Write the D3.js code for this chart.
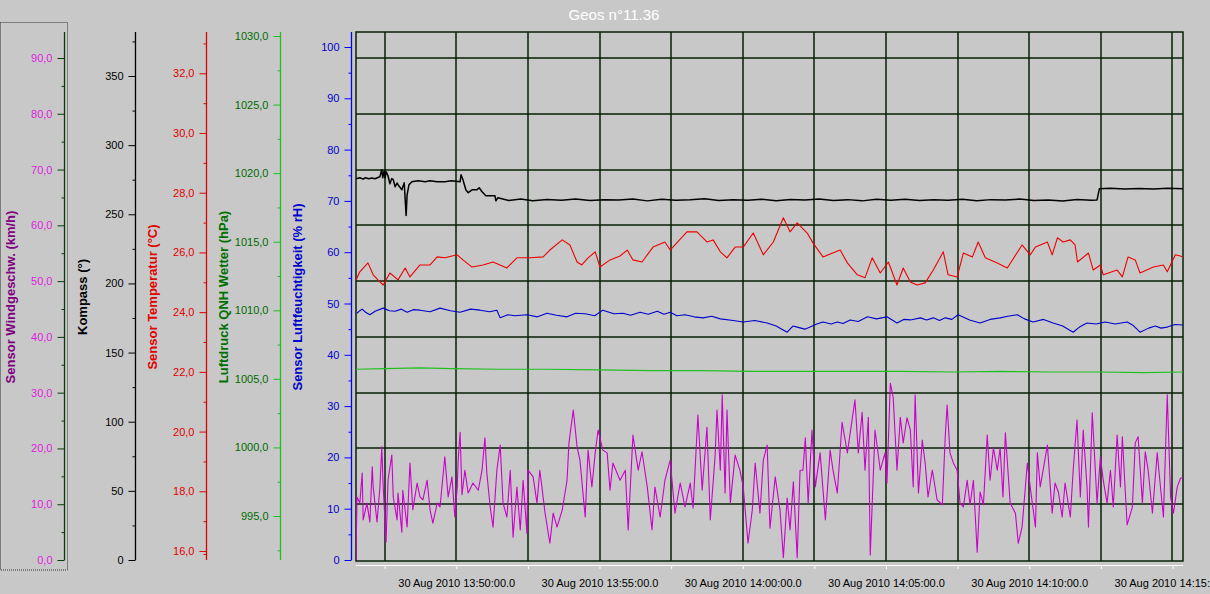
<!DOCTYPE html>
<html><head><meta charset="utf-8">
<script src="https://cdn.jsdelivr.net/npm/d3@7/dist/d3.min.js"></script>
<style>
html,body{margin:0;padding:0;background:#c8c8c8;overflow:hidden;}
svg{display:block;font-family:Arial,"Liberation Sans",sans-serif;}
</style></head><body>
<svg id="chart" width="1210" height="594"></svg>
<script>
// ---------- data ----------
const chartTitle = "Geos n°11.36";
const startTime = "2010-08-30 13:46:30";
const endTime   = "2010-08-30 14:15:22";
const gridTimes = ["13:47:30","13:50:00","13:52:30","13:55:00","13:57:30","14:00:00","14:02:30","14:05:00","14:07:30","14:10:00","14:12:30","14:15:00"];
const labelTimes = ["13:50:00","13:55:00","14:00:00","14:05:00","14:10:00","14:15:00"];

const windTicks = [0,10,20,30,40,50,60,70,80,90];
const compassTicks = [0,50,100,150,200,250,300,350];
const tempTicks = [16,18,20,22,24,26,28,30,32];
const pressTicks = [995,1000,1005,1010,1015,1020,1025,1030];
const humidTicks = [0,10,20,30,40,50,60,70,80,90,100];

const axisTitles = ["Sensor Windgeschw. (km/h)","Kompass (°)","Sensor Temperatur (°C)","Luftdruck QNH Wetter (hPa)","Sensor Luftfeuchtigkeit (% rH)"];

// [seconds after 13:46:30, value]
const windData = [[0,0],[2,11.3],[8,10.2],[13,15.6],[15,7.2],[23,10.2],[29,6.8],[34,16.7],[36,13.1],[44,6.8],[50,12.9],[54,20.3],[57,13.1],[63,3.2],[67,14.3],[75,18.8],[78,11.3],[86,7.2],[88,12.0],[96,5.0],[98,12.5],[107,5.9],[113,17.4],[119,9.0],[128,13.8],[134,11.3],[140,10.8],[149,14.3],[155,9.0],[161,6.6],[170,10.2],[176,9.5],[186,18.5],[193,11.3],[201,14.9],[207,7.7],[212,13.1],[214,17.9],[218,22.9],[222,11.7],[228,16.1],[235,12.0],[245,13.8],[256,12.5],[264,16.1],[270,21.9],[274,15.6],[281,9.5],[287,5.9],[295,16.1],[302,20.6],[308,10.2],[316,7.7],[323,16.1],[329,4.1],[337,13.1],[344,5.4],[350,14.3],[358,4.8],[360,16.1],[371,14.9],[379,10.2],[385,16.1],[396,8.4],[406,3.0],[413,8.4],[421,5.9],[432,9.0],[442,14.3],[446,21.0],[455,26.9],[463,20.3],[469,17.9],[480,7.7],[486,19.7],[494,13.1],[501,19.2],[507,23.3],[517,19.7],[526,19.2],[532,12.5],[538,17.4],[553,14.3],[564,16.1],[570,5.4],[580,22.4],[591,16.1],[599,19.4],[610,13.1],[620,5.4],[626,13.1],[637,7.7],[647,14.3],[658,17.9],[668,8.4],[679,13.8],[689,9.5],[700,13.8],[706,9.3],[716,26.0],[725,12.5],[735,23.8],[742,7.2],[752,18.5],[756,26.9],[763,16.1],[767,29.6],[773,12.0],[777,26.9],[784,10.2],[794,18.8],[804,16.1],[811,13.1],[821,3.0],[830,9.0],[836,17.4],[846,8.4],[853,17.9],[861,20.6],[867,5.7],[878,14.9],[888,9.0],[895,0.4],[903,11.1],[909,5.4],[916,14.0],[924,0.4],[930,16.1],[936,16.1],[941,21.9],[947,10.2],[955,23.3],[962,13.1],[972,19.2],[983,7.2],[993,19.7],[999,16.1],[1008,12.0],[1018,24.7],[1029,19.2],[1045,28.7],[1052,19.2],[1060,26.5],[1066,16.1],[1073,25.6],[1077,0.9],[1087,23.3],[1098,16.1],[1108,19.2],[1112,13.8],[1119,31.7],[1125,29.2],[1133,16.1],[1140,25.6],[1146,21.0],[1154,25.5],[1161,23.3],[1167,13.1],[1171,29.6],[1178,12.0],[1186,21.5],[1192,17.4],[1198,11.3],[1207,16.1],[1217,10.8],[1228,9.9],[1234,22.1],[1238,27.8],[1244,19.2],[1251,17.4],[1259,16.1],[1265,10.2],[1272,9.5],[1280,14.3],[1286,9.9],[1293,14.3],[1301,1.4],[1307,12.2],[1314,9.9],[1322,22.4],[1328,14.3],[1335,20.1],[1343,16.1],[1349,20.1],[1355,11.3],[1360,22.8],[1370,10.2],[1381,8.4],[1387,3.0],[1395,5.9],[1406,17.4],[1412,13.1],[1423,5.9],[1427,19.2],[1433,13.1],[1448,20.6],[1458,8.4],[1464,13.8],[1471,12.2],[1479,7.7],[1485,13.8],[1496,7.7],[1502,16.1],[1510,25.1],[1517,11.3],[1523,23.3],[1531,13.1],[1534,5.9],[1542,26.4],[1552,10.2],[1559,18.5],[1565,14.3],[1573,10.2],[1580,16.1],[1586,9.5],[1594,22.4],[1601,13.1],[1605,22.1],[1611,12.5],[1615,6.3],[1626,9.5],[1632,21.0],[1638,22.1],[1647,10.2],[1653,19.4],[1659,16.1],[1668,8.4],[1678,19.2],[1684,13.8],[1691,7.7],[1699,29.6],[1706,11.3],[1712,8.4],[1720,13.1],[1727,14.7],[1733,14.7]];

const compassData = [[0,275.7],[8,276.4],[15,275.4],[19,276.4],[27,275.7],[33,276.2],[40,275.7],[46,276.6],[50,277.1],[54,282.2],[56,276.4],[59,281.5],[61,276.4],[63,280.8],[67,277.9],[71,272.1],[75,275.8],[78,275.0],[82,269.9],[86,272.6],[88,271.4],[92,269.6],[96,267.7],[101,272.8],[103,260.5],[105,249.2],[107,264.1],[111,271.4],[117,273.5],[130,274.3],[145,273.6],[155,274.2],[170,273.6],[186,273.5],[200,274.2],[218,273.5],[220,278.6],[224,275.0],[230,267.7],[235,265.6],[243,267.7],[253,267.7],[258,269.2],[264,266.3],[272,263.4],[291,263.4],[293,259.8],[297,261.9],[320,260.0],[345,261.0],[370,259.8],[400,260.7],[430,260.2],[460,261.1],[490,259.9],[520,260.6],[550,260.3],[580,261.0],[610,259.7],[640,260.8],[670,260.1],[700,260.5],[730,261.3],[760,259.9],[790,260.6],[820,260.2],[850,260.9],[880,259.8],[910,260.7],[940,260.3],[970,261.0],[1000,260.0],[1030,260.6],[1060,259.7],[1090,260.8],[1120,260.2],[1150,260.9],[1180,259.9],[1210,260.5],[1240,260.1],[1270,260.8],[1300,259.8],[1330,260.6],[1360,260.3],[1390,261.0],[1420,259.9],[1450,260.4],[1480,259.6],[1510,260.7],[1540,260.1],[1552,260.4],[1557,268.5],[1580,268.9],[1610,268.2],[1640,268.7],[1670,268.3],[1700,268.8],[1733,268.4]];

const tempData = [[0,25.08],[8,25.35],[25,25.65],[36,25.25],[46,25.08],[57,24.91],[71,25.31],[88,25.08],[103,25.48],[113,25.18],[134,25.58],[155,25.58],[170,25.85],[186,25.82],[212,25.92],[224,25.75],[243,25.51],[266,25.58],[287,25.68],[316,25.48],[337,25.82],[365,25.82],[392,25.85],[406,26.08],[432,26.42],[448,26.25],[463,25.68],[473,25.58],[486,25.82],[501,26.02],[511,25.51],[532,25.75],[553,25.88],[568,26.08],[580,25.75],[599,25.68],[622,26.18],[647,26.35],[658,26.08],[693,26.69],[714,26.69],[735,26.35],[748,26.42],[763,26.02],[777,25.82],[794,26.18],[811,26.18],[832,26.65],[853,25.92],[874,26.35],[895,27.16],[909,26.69],[924,26.99],[945,26.65],[957,26.32],[978,25.85],[1014,26.08],[1029,25.65],[1050,25.25],[1066,25.15],[1081,25.82],[1098,25.31],[1115,25.68],[1133,24.91],[1146,25.48],[1161,25.01],[1175,24.91],[1192,24.98],[1209,25.41],[1230,26.02],[1240,25.25],[1259,25.18],[1272,25.98],[1291,25.85],[1303,26.35],[1318,25.82],[1343,25.65],[1364,25.48],[1395,26.25],[1412,25.92],[1423,26.18],[1448,26.35],[1458,25.92],[1469,26.49],[1481,26.35],[1496,26.42],[1506,26.25],[1511,25.68],[1534,25.98],[1544,25.41],[1559,25.58],[1565,25.25],[1594,25.41],[1605,25.18],[1617,25.85],[1632,25.75],[1642,25.31],[1670,25.51],[1691,25.58],[1699,25.35],[1716,25.92],[1733,25.85]];

const pressData = [[0,1005.7],[60,1005.75],[134,1005.8],[200,1005.75],[302,1005.7],[400,1005.7],[511,1005.65],[620,1005.6],[721,1005.6],[830,1005.55],[930,1005.55],[1040,1005.55],[1140,1005.55],[1250,1005.5],[1349,1005.55],[1450,1005.5],[1559,1005.5],[1650,1005.45],[1733,1005.5]];

const humidData = [[2,48.1],[8,48.6],[13,48.9],[20,48.3],[29,47.8],[40,48.5],[57,49.1],[70,48.6],[82,48.5],[95,48.9],[107,48.3],[120,48.8],[134,48.7],[155,48.4],[176,49.1],[198,48.6],[218,48.3],[240,48.9],[260,48.7],[280,48.4],[295,48.7],[302,47.2],[318,47.8],[333,47.6],[358,47.8],[380,47.4],[400,48.1],[420,47.7],[442,47.4],[460,48.1],[480,48.0],[500,47.6],[517,48.7],[540,48.0],[559,48.1],[575,47.7],[595,48.3],[612,47.9],[631,48.5],[645,47.9],[658,48.3],[672,47.6],[689,47.8],[708,47.4],[727,47.2],[745,47.5],[763,47.0],[790,46.7],[811,46.4],[835,46.7],[861,46.2],[880,45.6],[903,44.4],[915,45.6],[924,45.4],[940,45.0],[951,45.4],[965,46.0],[978,46.4],[995,46.0],[1008,46.4],[1020,46.1],[1035,46.8],[1052,46.5],[1071,47.4],[1090,47.0],[1112,47.4],[1133,46.2],[1147,46.9],[1161,46.8],[1182,47.2],[1195,46.8],[1209,47.2],[1222,46.7],[1234,47.2],[1248,46.9],[1261,47.8],[1285,46.8],[1307,46.2],[1328,46.9],[1349,47.2],[1365,47.5],[1385,47.8],[1400,47.0],[1418,46.4],[1440,46.9],[1460,46.2],[1480,45.6],[1502,44.4],[1515,45.4],[1531,46.2],[1550,46.0],[1569,46.4],[1590,46.0],[1615,46.4],[1628,45.7],[1642,44.4],[1660,45.2],[1674,45.6],[1686,45.2],[1699,45.4],[1715,45.9],[1733,45.8]];

// ---------- layout ----------
const svg = d3.select("#chart");
const W = 1210, H = 594;
const plot = {left: 356, right: 1183, top: 32, bottom: 561};
const axisTop = 32, axisBottom = 560;

const parseFull = d3.timeParse("%Y-%m-%d %H:%M:%S");
const t0 = parseFull(startTime), t1 = parseFull(endTime);
const atClock = s => parseFull("2010-08-30 " + s);
const atOffset = s => new Date(t0.getTime() + s * 1000);

const x = d3.scaleTime().domain([t0, t1]).range([plot.left, plot.right]);
const yWind = d3.scaleLinear().domain([0, 90]).range([560, 58]);
const yCompass = d3.scaleLinear().domain([0, 350]).range([560, 76]);
const yTemp = d3.scaleLinear().domain([16, 32]).range([551, 73.3]);
const yPress = d3.scaleLinear().domain([995, 1030]).range([516, 36]);
const yHumid = d3.scaleLinear().domain([0, 100]).range([560, 47]);

svg.append("rect").attr("width", W).attr("height", H).attr("fill", "#c8c8c8");

// title
svg.append("text").attr("x", 614).attr("y", 20).attr("text-anchor", "middle")
  .attr("fill", "#ffffff").style("font-size", "15px").text(chartTitle);

// dotted box around wind axis
svg.append("rect").attr("x", 0.5).attr("y", 22.5).attr("width", 67).attr("height", 547.5)
  .attr("fill", "none").attr("stroke", "#333").attr("stroke-dasharray", "1,1").attr("stroke-width", 1);

const comma1 = v => d3.format(".1f")(v).replace(".", ",");
const plain = v => d3.format("d")(v);

function yAxis(scale, xpos, majors, minors, fmt, lineColor, labelColor, title, titleColor, titleX) {
  const g = svg.append("g").attr("transform", `translate(${xpos},0)`);
  const maj = g.append("g").call(d3.axisLeft(scale).tickValues(majors).tickSize(7).tickPadding(5).tickFormat(fmt));
  maj.select(".domain").remove();
  maj.selectAll(".tick line").attr("stroke", lineColor);
  maj.selectAll(".tick text").attr("fill", labelColor).style("font-size", "11px").style("font-family", "Arial, 'Liberation Sans', sans-serif");
  const mi = g.append("g").call(d3.axisLeft(scale).tickValues(minors).tickSize(3).tickFormat(""));
  mi.select(".domain").remove();
  mi.selectAll(".tick line").attr("stroke", lineColor);
  g.append("line").attr("x1", 0).attr("x2", 0).attr("y1", axisTop).attr("y2", axisBottom)
    .attr("stroke", lineColor).attr("stroke-width", 1.3);
  svg.append("text").attr("transform", `translate(${titleX},297) rotate(-90)`)
    .attr("text-anchor", "middle").attr("dominant-baseline", "central")
    .attr("fill", titleColor).style("font-size", "13px").style("font-weight", "bold").text(title);
}
const mids = (arr, step) => arr.slice(0, -1).map(v => v + step / 2).concat([arr[arr.length - 1] + step / 2]);

yAxis(yWind, 64.5, windTicks, mids(windTicks, 10).filter(v => yWind(v) > axisTop), comma1, "#0a3a0a", "#e020e0", axisTitles[0], "#800080", 10);
yAxis(yCompass, 135.5, compassTicks, mids(compassTicks, 50).filter(v => yCompass(v) > axisTop), plain, "#000000", "#000000", axisTitles[1], "#000000", 82);
yAxis(yTemp, 206.5, tempTicks, mids(tempTicks, 2).concat([15.9]).filter(v => yTemp(v) > axisTop && yTemp(v) < axisBottom), comma1, "#e00000", "#e00000", axisTitles[2], "#e00000", 152);
yAxis(yPress, 280.5, pressTicks, mids(pressTicks, 5).concat([992.5]).filter(v => yPress(v) > axisTop && yPress(v) < axisBottom), comma1, "#20c020", "#006a00", axisTitles[3], "#007000", 223);
yAxis(yHumid, 351.5, humidTicks, mids(humidTicks, 10).filter(v => yHumid(v) > axisTop), plain, "#0000ff", "#0000cc", axisTitles[4], "#0000cc", 297);

// grid
const gridColor = "#062006";
const grid = svg.append("g");
grid.selectAll(".hg").data(windTicks.filter(v => v > 0)).join("line")
  .attr("x1", plot.left).attr("x2", plot.right)
  .attr("y1", d => Math.round(yWind(d))).attr("y2", d => Math.round(yWind(d)))
  .attr("stroke", gridColor).attr("stroke-width", 1.5);
grid.selectAll(".vg").data(gridTimes).join("line")
  .attr("x1", d => Math.round(x(atClock(d)))).attr("x2", d => Math.round(x(atClock(d))))
  .attr("y1", plot.top).attr("y2", plot.bottom)
  .attr("stroke", gridColor).attr("stroke-width", 1.5);
svg.append("rect").attr("x", plot.left).attr("y", plot.top)
  .attr("width", plot.right - plot.left).attr("height", plot.bottom - plot.top)
  .attr("fill", "none").attr("stroke", gridColor).attr("stroke-width", 1.5);

// x axis (white baseline + ticks)
const xa = svg.append("g").attr("transform", `translate(0,565)`);
xa.append("line").attr("x1", plot.left).attr("x2", plot.right).attr("y1", 0.5).attr("y2", 0.5)
  .attr("stroke", "#ffffff").attr("stroke-width", 1.2);
const xt = xa.append("g").call(d3.axisBottom(x).tickValues(gridTimes.map(atClock)).tickSize(4).tickFormat(""));
xt.select(".domain").remove();
xt.selectAll(".tick line").attr("stroke", "#ffffff");
const fmtX = d => d3.timeFormat("%d %b %Y %H:%M:%S")(d) + ".0";
const xl = xa.append("g").call(d3.axisBottom(x).tickValues(labelTimes.map(atClock)).tickSize(0).tickPadding(14).tickFormat(fmtX));
xl.select(".domain").remove();
xl.selectAll("text").attr("fill", "#000").style("font-size", "11px").style("font-family", "Arial, 'Liberation Sans', sans-serif");

// series
svg.append("clipPath").attr("id", "clip").append("rect")
  .attr("x", plot.left).attr("y", plot.top).attr("width", plot.right - plot.left).attr("height", plot.bottom - plot.top);
const series = svg.append("g").attr("clip-path", "url(#clip)");
function drawLine(data, yScale, color, width) {
  series.append("path").datum(data)
    .attr("fill", "none").attr("stroke", color).attr("stroke-width", width).attr("stroke-linejoin", "round")
    .attr("d", d3.line().x(d => x(atOffset(d[0]))).y(d => yScale(d[1])));
}
drawLine(windData, yWind, "#cc00cc", 1.1);
drawLine(pressData, yPress, "#20c020", 1.2);
drawLine(humidData, yHumid, "#0000cc", 1.1);
drawLine(tempData, yTemp, "#ee0000", 1.1);
drawLine(compassData, yCompass, "#000000", 1.5);
</script>
</body></html>
